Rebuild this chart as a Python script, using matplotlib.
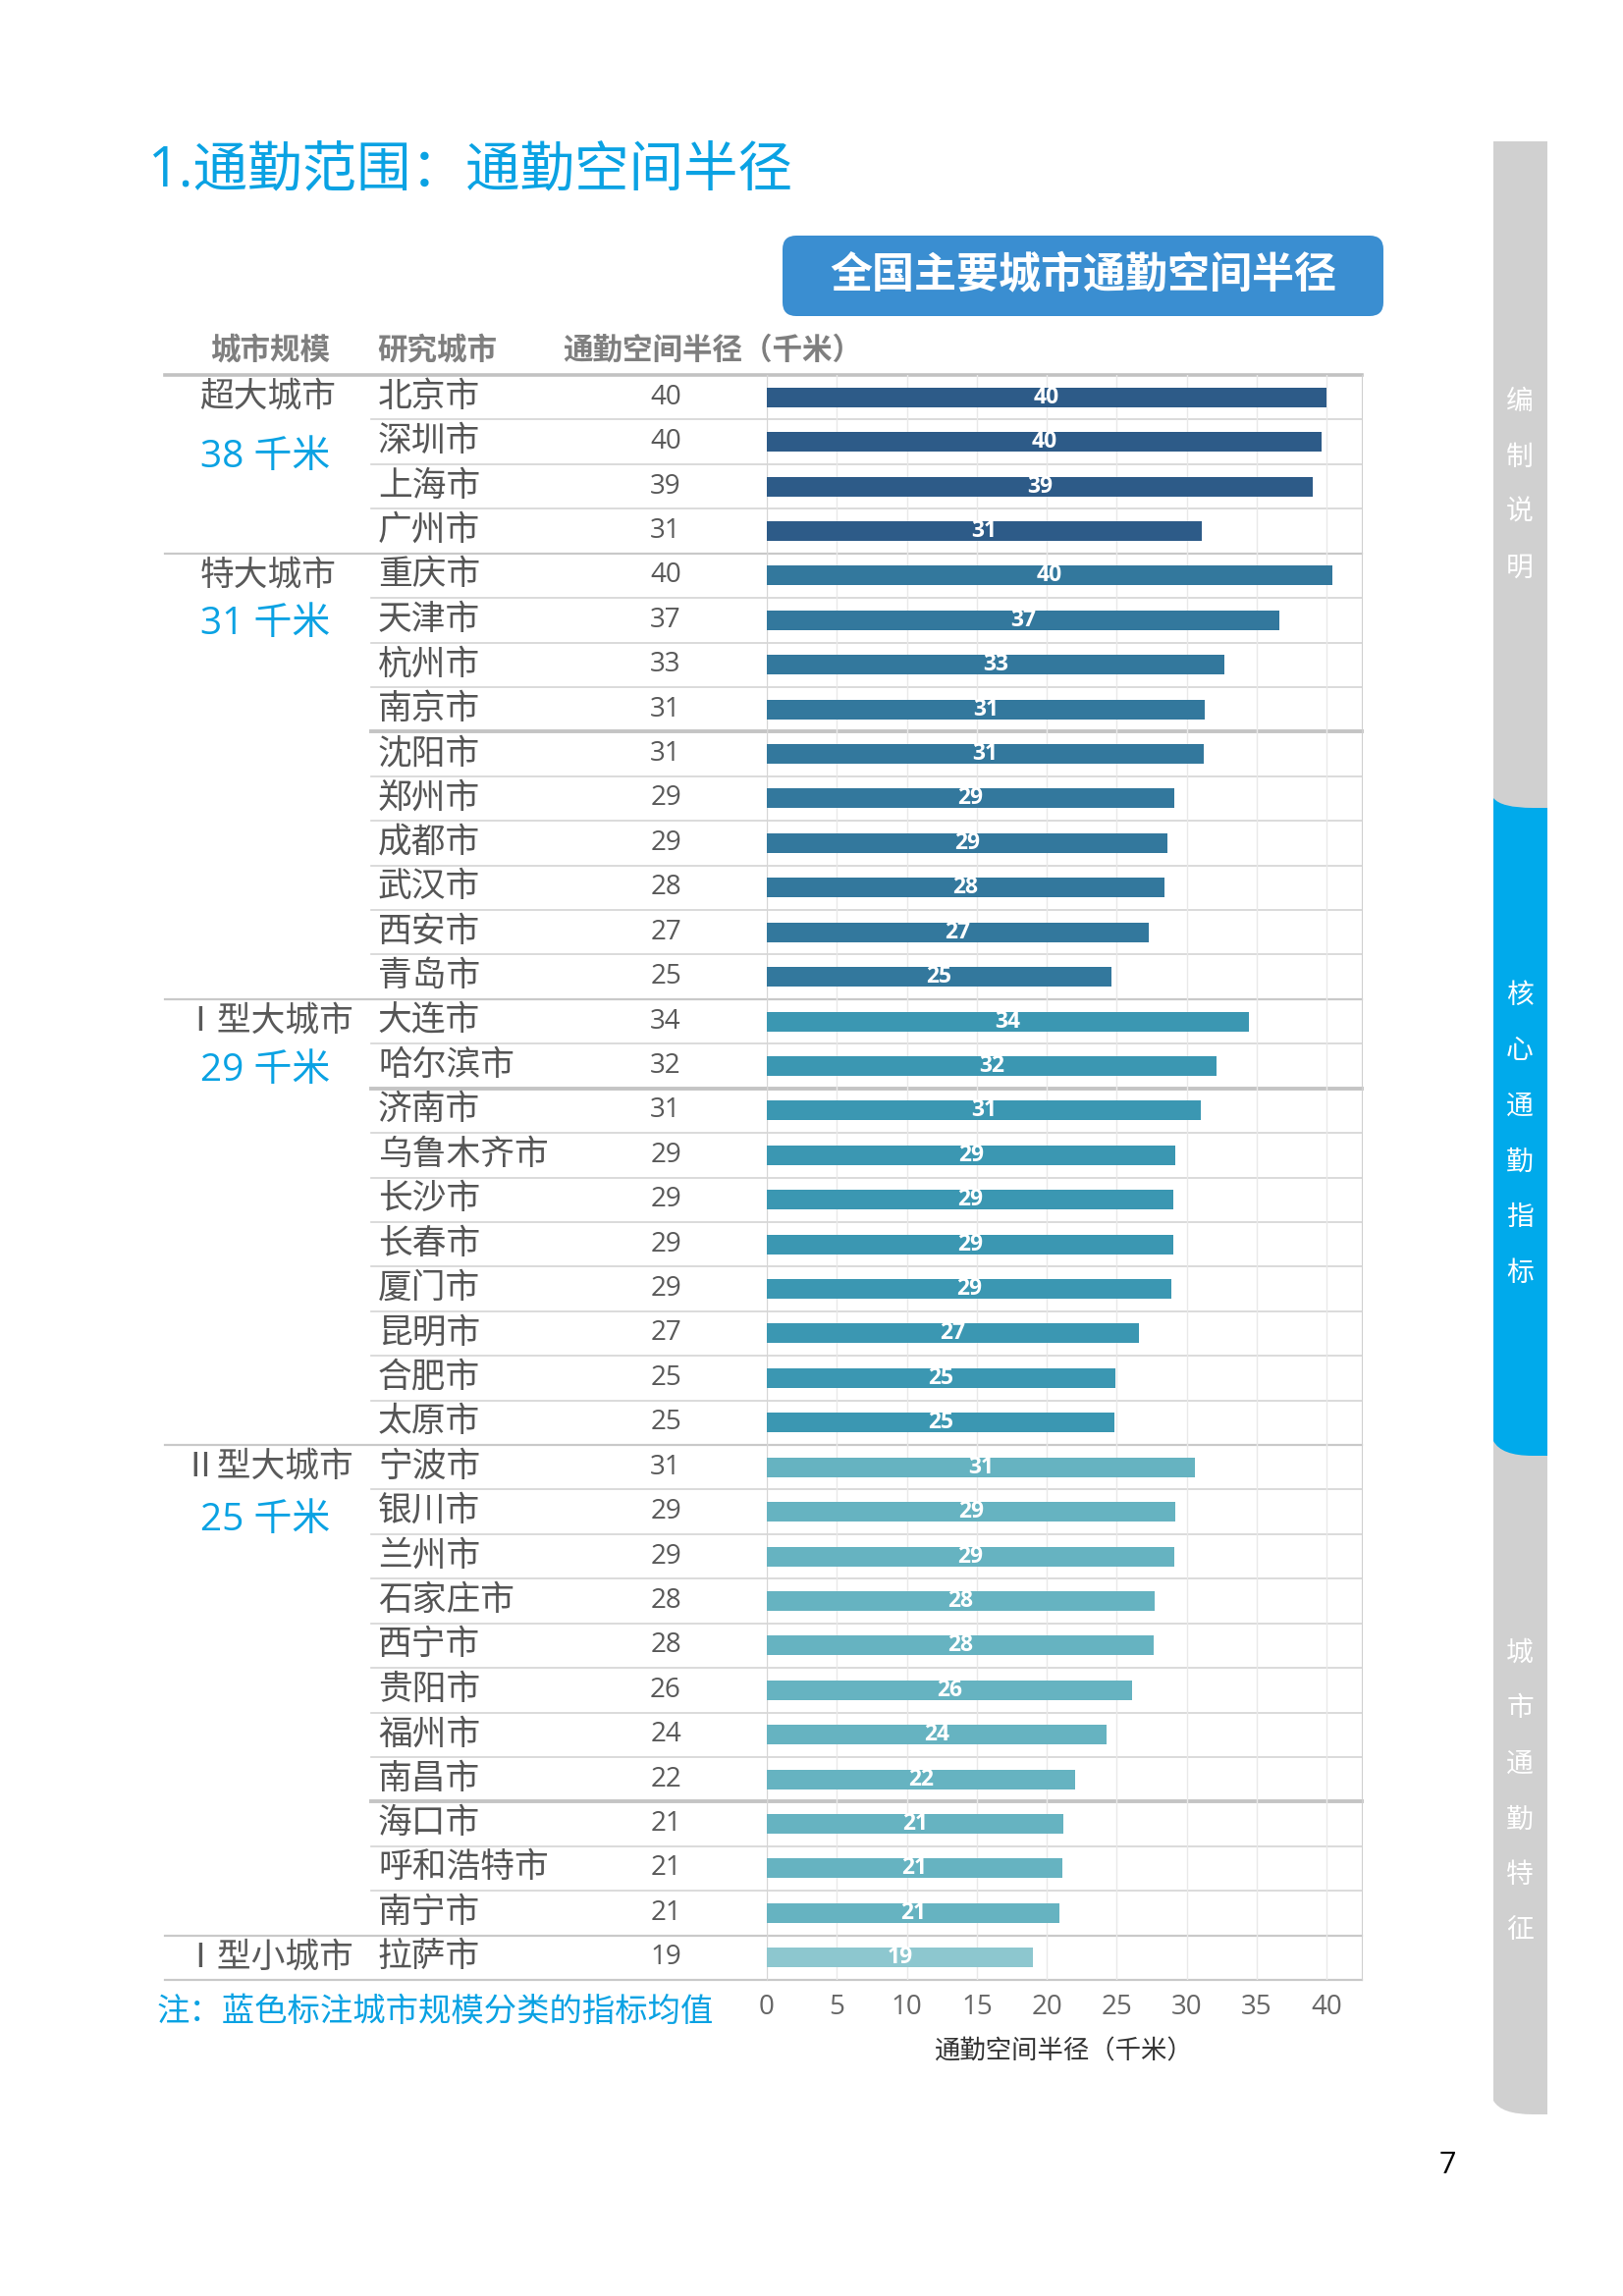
import numpy as np
import matplotlib
matplotlib.use("Agg")
import matplotlib.pyplot as plt
import matplotlib.transforms as mtransforms
from matplotlib.patches import FancyBboxPatch, PathPatch
from matplotlib.path import Path

plt.rcParams["font.family"] = ["Open Sans", "Noto Sans CJK SC", "DejaVu Sans"]

# --- data ---
cities = [
    "北京市", "深圳市", "上海市", "广州市",
    "重庆市", "天津市", "杭州市", "南京市", "沈阳市", "郑州市", "成都市", "武汉市", "西安市", "青岛市",
    "大连市", "哈尔滨市", "济南市", "乌鲁木齐市", "长沙市", "长春市", "厦门市", "昆明市", "合肥市", "太原市",
    "宁波市", "银川市", "兰州市", "石家庄市", "西宁市", "贵阳市", "福州市", "南昌市", "海口市", "呼和浩特市", "南宁市",
    "拉萨市",
]
radius = [
    40.0, 39.6, 39.0, 31.1,
    40.4, 36.6, 32.7, 31.3, 31.2, 29.1, 28.6, 28.4, 27.3, 24.6,
    34.4, 32.1, 31.0, 29.2, 29.0, 29.0, 28.9, 26.6, 24.9, 24.8,
    30.6, 29.2, 29.1, 27.7, 27.6, 26.1, 24.3, 22.0, 21.2, 21.1, 20.9,
    19.0,
]
scale_names = ["超大城市", "特大城市", "Ⅰ型大城市", "Ⅱ型大城市", "Ⅰ型小城市"]
scale_sizes = [4, 10, 10, 11, 1]
scale_means = [38, 31, 29, 25, None]
scale_colors = ["#2D5B88", "#33789D", "#3B97B2", "#66B3C1", "#8DC7CF"]
page_breaks = ["南京市", "哈尔滨市", "南昌市"]

W, H = 1653, 2339
CYAN = "#0AA2E3"

fig = plt.figure(figsize=(W / 100, H / 100), dpi=100)
page = fig.add_axes([0, 0, 1, 1])
page.set_xlim(0, W)
page.set_ylim(H, 0)
page.axis("off")

# chart axes
ax_l, ax_r, ax_t, ax_b = 781, 1387, 382, 2017
ax = fig.add_axes([ax_l / W, 1 - ax_b / H, (ax_r - ax_l) / W, (ax_b - ax_t) / H])
ax.set_facecolor("none")

n = len(cities)
rows = np.arange(n)
bar_colors = []
for size, col in zip(scale_sizes, scale_colors):
    bar_colors += [col] * size

ax.barh(rows, radius, height=0.44, color=bar_colors, zorder=3)
for i, v in enumerate(radius):
    ax.text(v / 2, i, f"{v:.0f}", ha="center", va="center", color="white",
            fontsize=16.5, fontweight="bold", zorder=4)

ax.set_ylim(n - 0.5, -0.5)
ax.set_xlim(0, 42.5)
ax.set_xticks(range(0, 41, 5))
ax.set_yticks([])
ax.grid(axis="x", color="#e9e9e9", lw=1.0)
ax.set_axisbelow(True)
for s in ["top", "bottom"]:
    ax.spines[s].set_visible(False)
ax.spines["left"].set_color("#d6d6d6")
ax.spines["right"].set_color("#d0d0d0")
ax.tick_params(axis="x", length=0, pad=10, labelsize=20, labelcolor="#666666")
ax.set_xlabel("通勤空间半径（千米）", fontsize=19, color="#333333", labelpad=14)

# table part (x in page pixels, y in chart rows)
blend = mtransforms.blended_transform_factory(page.transData, ax.transData)

group_ends = np.cumsum(scale_sizes)
group_starts = group_ends - np.array(scale_sizes)
break_rows = [cities.index(c) for c in page_breaks]

for i in range(n - 1):
    yb = i + 0.5
    if i + 1 in group_ends:
        page.plot([168, ax_r], [yb, yb], color="#c9c9c9", lw=1.6, transform=blend)
    elif i in break_rows:
        page.plot([378, ax_r], [yb, yb], color="#c4c4c4", lw=2.8, transform=blend)
    else:
        page.plot([378, ax_r], [yb, yb], color="#d4d4d4", lw=1.2, transform=blend)
page.plot([168, ax_r], [-0.5, -0.5], color="#c2c2c2", lw=2.6, transform=blend)
page.plot([168, ax_r], [n - 0.5, n - 0.5], color="#c9c9c9", lw=1.6, transform=blend)

for i, (c, v) in enumerate(zip(cities, radius)):
    page.text(385, i, c, ha="left", va="center", fontsize=25, color="#555555", transform=blend)
    page.text(678, i, f"{v:.0f}", ha="center", va="center", fontsize=20, color="#595959", transform=blend)

mean_offsets = [1.35, 1.1, 1.1, 1.2, 0]
for name, start, mean, off in zip(scale_names, group_starts, scale_means, mean_offsets):
    page.text(273, start, name, ha="center", va="center", fontsize=25, color="#595959", transform=blend)
    if mean is not None:
        page.text(270, start + off, f"{mean} 千米", ha="center", va="center", fontsize=28,
                  color=CYAN, transform=blend)

# headers
for x, t in [(275, "城市规模"), (445, "研究城市"), (726, "通勤空间半径（千米）")]:
    page.text(x, 358, t, ha="center", va="center", fontsize=22, fontweight="bold", color="#7f7f7f")

# title and box
page.text(150, 175, "1.通勤范围：通勤空间半径", ha="left", va="center", fontsize=40, color=CYAN)
page.add_patch(FancyBboxPatch((797, 240), 612, 82, boxstyle="round,pad=0,rounding_size=14",
                              fc="#3A8ED1", ec="none"))
page.text(1103, 281, "全国主要城市通勤空间半径", ha="center", va="center", fontsize=31,
          fontweight="bold", color="white")

page.text(160, 2050, "注：蓝色标注城市规模分类的指标均值", ha="left", va="center", fontsize=24, color=CYAN)
page.text(1474, 2206, "7", ha="center", va="center", fontsize=22, color="black")

# side tab
x0, x1 = 1521, 1576
grey = Path([(x0, 144), (x1, 144), (x1, 2154), (x0 + 40, 2154), (x0 + 8, 2154), (x0, 2140), (x0, 144)],
            [Path.MOVETO, Path.LINETO, Path.LINETO, Path.LINETO, Path.CURVE3, Path.CURVE3, Path.CLOSEPOLY])
page.add_patch(PathPatch(grey, fc="#d0d0d0", ec="none"))
blue = Path([(x0, 813), (x0 + 8, 823), (x0 + 40, 823), (x1, 823), (x1, 1483), (x0 + 40, 1483),
             (x0 + 8, 1483), (x0, 1468), (x0, 813)],
            [Path.MOVETO, Path.CURVE3, Path.CURVE3, Path.LINETO, Path.LINETO, Path.LINETO,
             Path.CURVE3, Path.CURVE3, Path.CLOSEPOLY])
page.add_patch(PathPatch(blue, fc="#00AAEB", ec="none"))

for word, y0 in [("编制说明", 410), ("核心通勤指标", 1015), ("城市通勤特征", 1685)]:
    for k, ch in enumerate(word):
        page.text(1548, y0 + k * 56.5, ch, ha="center", va="center", fontsize=20, color="white")

fig.savefig("out.png", dpi=100)
